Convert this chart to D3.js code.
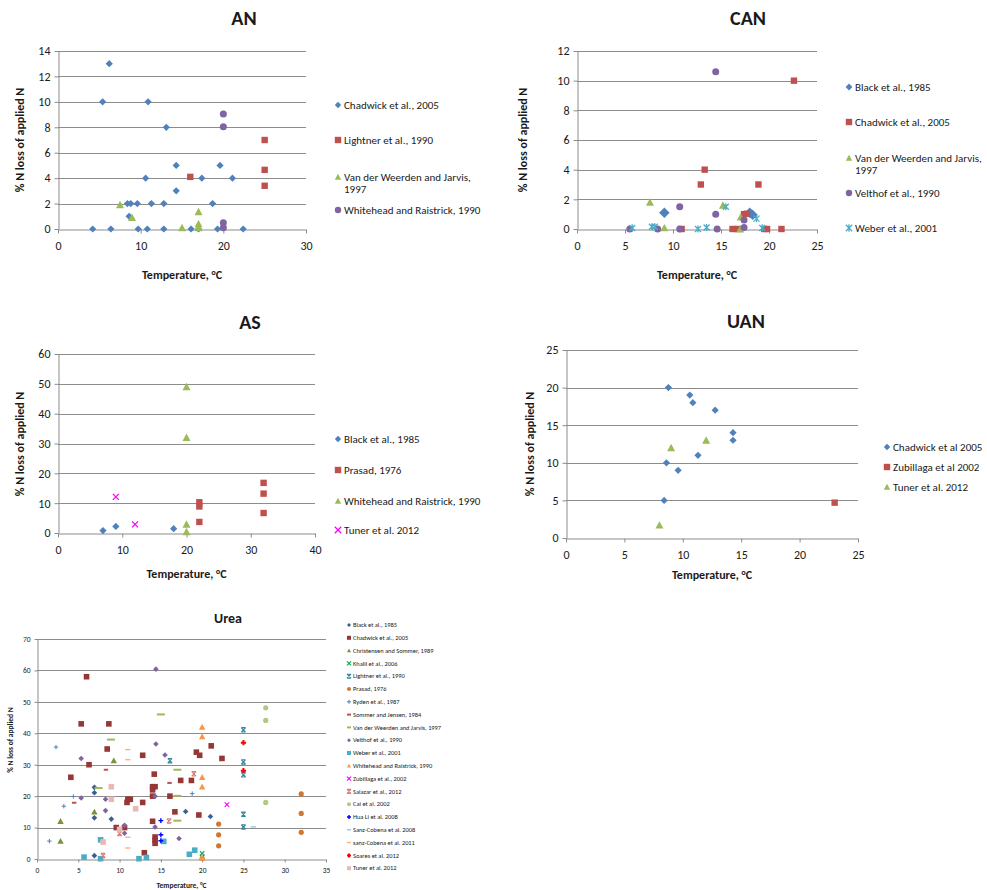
<!DOCTYPE html>
<html>
<head>
<meta charset="utf-8">
<script src="https://cdn.jsdelivr.net/npm/d3@7"></script>
<style>
  body { margin: 0; background: #fff; }
  text { font-family: Carlito, Calibri, Lato, "Liberation Sans", sans-serif; fill: #1a1a1a; }
</style>
</head>
<body>
<div id="chart"></div>
<script>
// ---------- AN ----------
var anNames = ["Chadwick et al., 2005", "Lightner et al., 1990", "Van der Weerden and Jarvis,\n1997", "Whitehead and Raistrick, 1990"];
var anChadwick = [[6.2,13],[5.4,10],[10.9,10],[13.1,8],[14.3,5],[19.6,5],[10.6,4],[17.4,4],[21.1,4],[14.3,3],
  [8.4,2],[8.8,2],[9.6,2],[11.3,2],[12.8,2],[18.7,2],[8.6,1],[4.2,0],[6.4,0],[9.7,0],[10.8,0],[12.8,0],
  [16.1,0],[17.0,0],[19.3,0],[22.4,0]];
var anLightner = [[16.0,4.1],[25,7.0],[25,4.65],[25,3.4]];
var anWeerden = [[7.5,1.9],[8.95,0.9],[15.0,0.1],[17.0,1.35],[17.0,0.4],[17.0,0.1]];
var anWhitehead = [[20,9.05],[20,8.05],[20,0.5],[20,0.1]];

// ---------- CAN ----------
var canNames = ["Black et al., 1985", "Chadwick et al., 2005", "Van der Weerden and Jarvis,\n1997", "Velthof et al., 1990", "Weber et al., 2001"];
var canBlack = [[9.1,1.1],[18.0,1.1],[18.3,0.95]];
var canChadwick = [[22.6,10],[13.3,4],[12.9,3],[18.9,3],[17.4,1.0],[17.7,1.03],[10.9,0],[16.2,0],[16.7,0],[19.5,0],[19.8,0],[21.3,0]];
var canWeerden = [[7.6,1.8],[9.1,0.07],[15.2,1.6],[17.05,0.8],[17.0,0.0]];
var canVelthof = [[14.45,10.6],[10.7,1.5],[14.45,1.0],[17.4,0.6],[17.4,0.1],[5.5,0],[8.4,0],[10.7,0],[14.6,0]];
var canWeber = [[5.75,0.07],[7.8,0.15],[8.1,0.15],[12.6,0],[13.5,0.1],[15.5,1.5],[18.7,0.7],[19.3,0.07]];

// ---------- AS ----------
var asNames = ["Black et al., 1985", "Prasad, 1976", "Whitehead and Raistrick, 1990", "Tuner et al. 2012"];
var asBlack = [[7,0.8],[9,2.2],[18,1.45]];
var asPrasad = [[22,10.3],[22,8.9],[22,3.7],[32,16.8],[32,13.2],[32,6.7]];
var asWhitehead = [[20,49],[20,32],[20,2.9],[20,0.4]];
var asTuner = [[9,12.1],[12,2.9]];

// ---------- UAN ----------
var uanNames = ["Chadwick et al 2005", "Zubillaga et al 2002", "Tuner et al. 2012"];
var uanChadwick = [[8.77,20],[10.6,19],[10.86,18],[12.77,17],[14.3,14],[14.3,13],[11.3,11],[8.6,10],[9.6,9],[8.4,5]];
var uanZubillaga = [[23,4.7]];
var uanTuner = [[8.0,1.7],[9.0,12],[12.0,13]];

// ---------- Urea ----------
var ureaNames = ["Black et al., 1985", "Chadwick et al., 2005", "Christensen and Sommer, 1989", "Khalil et al., 2006",
  "Lightner et al., 1990", "Prasad, 1976", "Ryden et al., 1987", "Sommer and Jensen, 1984",
  "Van der Weerden and Jarvis, 1997", "Velthof et al., 1990", "Weber et al., 2001", "Whitehead and Raistrick, 1990",
  "Zubillaga et al., 2002", "Salazar et al., 2012", "Cai et al. 2002", "Hua Li et al. 2008",
  "Sanz-Cobena et al. 2008", "sanz-Cobena et al. 2011", "Soares et al. 2012", "Tuner et al. 2012"];
var ureaBlack = [[6.95,22.8],[6.95,21.1],[6.95,13.1],[9.0,12.7],[6.95,1.06],[18.0,15.1],[21.0,13.5]];
var ureaChadwick = [[6.0,58],[5.35,43],[8.7,43],[8.5,35],[6.3,30],[4.1,26],[12.8,33],[14.2,27],[14.0,23],[14.0,22],
  [14.3,23],[14.0,20],[11.0,19],[10.9,18],[11.3,19],[12.8,18],[16.1,20],[16.7,15],[9.6,10],[10.6,10],[14.0,12],
  [14.3,7],[14.3,6],[14.3,5],[13.0,2],[17.4,25],[18.7,25],[19.3,34],[19.7,33],[21.1,36],[22.4,32],[19.6,14]];
var ureaChristensen = [[2.85,12],[2.85,5.7],[6.95,15],[9.3,31.3]];
var ureaKhalil = [[20,1.8],[20,0.6]];
var ureaLightner = [[25,41.1],[25,30.9],[25,26.8],[25,14.2],[25,10.2],[16.1,31.3]];
var ureaPrasad = [[32,20.7],[32,14.5],[32,8.5],[22,11.1],[22,7.7],[22,4.2],[20,0.2]];
var ureaRyden = [[2.3,35.6],[4.4,19.9],[3.25,16.8],[1.5,5.7],[18.8,20.8]];
var ureaSommer = [[4.5,17.9],[8.35,28.4],[16.05,24.2]];
var ureaWeerden = [[8.95,38],[7.45,22.6],[15.0,46],[17.0,28.4],[17.0,20.1],[17.0,12.2]];
var ureaVelthof = [[14.4,60.4],[5.35,32],[5.35,19.4],[14.4,36.6],[15.5,33.1],[8.3,19.0],[8.3,15.4],[10.6,10.7],
  [10.6,8.2],[14.3,20],[14.3,10.2],[17.2,6.5]];
var ureaWeber = [[5.7,0.6],[7.7,6.1],[7.7,0.1],[12.35,0.1],[13.25,0.5],[15.35,5.6],[18.45,1.5],[19.1,2.8]];
var ureaWhitehead = [[20,42],[20,39],[20,26],[20,23],[20,0.4]];
var ureaZubillaga = [[23,17.3]];
var ureaSalazar = [[10.0,8.1],[8.0,1.1],[16.0,12.1],[19.0,27.1]];
var ureaCai = [[27.7,48.1],[27.7,44.1],[27.7,18]];
var ureaHuaLi = [[15,12.2],[15,7.7],[15,5.8]];
var ureaSanz2008 = [[26.2,10.2]];
var ureaSanz2011 = [[11,34.8],[11,31.6],[11,6.9],[11,3.5]];
var ureaSoares = [[25,37],[25,28.1]];
var ureaTuner = [[9.0,23.0],[9.0,19.0],[11.95,16.0],[10.0,9.4],[8.0,5.4]];

var svg = d3.select("#chart").append("svg")
    .attr("width", 987)
    .attr("height", 890);

var gridColor = "#8c8c8c";

// marker outline for a given shape, centred on 0,0
function markerPath(shape, r) {
  var cross = "M" + (-r) + "," + (-r) + "L" + r + "," + r + "M" + r + "," + (-r) + "L" + (-r) + "," + r;
  switch (shape) {
    case "diamond": return "M0," + (-r) + "L" + r + ",0L0," + r + "L" + (-r) + ",0Z";
    case "square": return "M" + (-r) + "," + (-r) + "H" + r + "V" + r + "H" + (-r) + "Z";
    case "triangle": return "M0," + (-r) + "L" + r + "," + (r * 0.85) + "L" + (-r) + "," + (r * 0.85) + "Z";
    case "circle": return "M" + r + ",0A" + r + "," + r + " 0 1,1 " + (-r) + ",0A" + r + "," + r + " 0 1,1 " + r + ",0Z";
    case "x": return cross;
    case "asterisk": return cross + "M0," + (-r * 1.2) + "V" + (r * 1.2);
    case "star": return cross + "M" + (-r) + "," + (-r) + "H" + r + "M" + (-r) + "," + r + "H" + r;
    case "plus": return "M" + (-r) + ",0H" + r + "M0," + (-r) + "V" + r;
    case "dash": return "M" + (-r) + ",0H" + r;
  }
}
var lineShapes = ["x", "asterisk", "star", "plus", "dash"];

function styleMarker(sel, st) {
  var isLine = lineShapes.indexOf(st.shape) >= 0;
  sel.attr("fill", isLine ? "none" : st.color)
     .attr("stroke", isLine ? st.color : "none")
     .attr("stroke-width", isLine ? st.sw : 0);
}

function drawPanel(p) {
  var x = d3.scaleLinear().domain(p.xDomain).range([p.left, p.right]);
  var y = d3.scaleLinear().domain(p.yDomain).range([p.bottom, p.top]);
  var g = svg.append("g");

  // horizontal gridlines
  g.selectAll("line.grid")
    .data(p.yTicks.filter(function(d) { return d > p.yDomain[0]; }))
    .join("line")
    .attr("class", "grid")
    .attr("x1", p.left).attr("x2", p.right)
    .attr("y1", function(d) { return Math.round(y(d)) + 0.5; })
    .attr("y2", function(d) { return Math.round(y(d)) + 0.5; })
    .attr("stroke", gridColor);

  // axes
  var xa = g.append("g")
    .attr("transform", "translate(0," + (Math.round(p.bottom) + 0.5) + ")")
    .call(d3.axisBottom(x).tickValues(p.xTicks).tickSize(p.tick).tickSizeOuter(0).tickPadding(p.xPad));
  var ya = g.append("g")
    .attr("transform", "translate(" + (Math.round(p.left) + 0.5) + ",0)")
    .call(d3.axisLeft(y).tickValues(p.yTicks).tickSize(p.tick).tickSizeOuter(0).tickPadding(p.yPad));
  [xa, ya].forEach(function(a) {
    a.select(".domain").attr("stroke", gridColor);
    a.selectAll(".tick line").attr("stroke", gridColor);
    a.selectAll(".tick text").attr("font-size", p.tickFont).attr("fill", "#1a1a1a");
    a.attr("font-family", null);
  });

  // titles
  g.append("text")
    .attr("x", p.titleX).attr("y", p.titleY)
    .attr("text-anchor", "middle")
    .attr("font-weight", "bold")
    .attr("font-size", p.titleFont)
    .text(p.title);

  g.append("text")
    .attr("x", (p.left + p.right) / 2).attr("y", p.xLabelY)
    .attr("text-anchor", "middle")
    .attr("font-weight", "bold")
    .attr("font-size", p.labelFont)
    .text("Temperature, °C");

  g.append("text")
    .attr("transform", "translate(" + p.yLabelX + "," + p.yLabelY + ") rotate(-90)")
    .attr("text-anchor", "middle")
    .attr("dy", "0.35em")
    .attr("font-weight", "bold")
    .attr("font-size", p.labelFont)
    .text("% N loss of applied N");

  // points
  p.series.forEach(function(s) {
    var pts = g.append("g").selectAll("path")
      .data(s.data)
      .join("path")
      .attr("transform", function(d) { return "translate(" + x(d[0]) + "," + y(d[1]) + ")"; })
      .attr("d", markerPath(s.style.shape, s.style.r));
    styleMarker(pts, s.style);
  });

  // legend
  var lg = g.append("g");
  p.series.forEach(function(s, i) {
    var ly = p.legendRows[i];
    var m = lg.append("path")
      .attr("transform", "translate(" + p.legendX + "," + ly + ")")
      .attr("d", markerPath(s.style.shape, s.style.lr || p.legendR));
    styleMarker(m, s.style);
    var t = lg.append("text")
      .attr("x", p.legendX + p.legendGap).attr("y", ly)
      .attr("font-size", p.legendFont);
    s.name.split("\n").forEach(function(line, j) {
      t.append("tspan").attr("x", p.legendX + p.legendGap).attr("dy", j === 0 ? "0.35em" : p.legendLine).text(line);
    });
  });
}

var blue = "#4F81BD", red = "#C0504D", green = "#9BBB59", purple = "#8064A2", aqua = "#4BACC6";
var big = {
  tick: 4, xPad: 8, yPad: 4, tickFont: 12, titleFont: 20, labelFont: 12,
  legendR: 3.2, legendGap: 6, legendFont: 11, legendLine: 12
};

drawPanel(Object.assign({}, big, {
  title: "AN", titleX: 244, titleY: 25,
  left: 58, right: 306, top: 51, bottom: 229,
  xDomain: [0, 30], yDomain: [0, 14],
  xTicks: [0, 10, 20, 30], yTicks: [0, 2, 4, 6, 8, 10, 12, 14],
  xLabelY: 279, yLabelX: 20, yLabelY: 140,
  legendX: 338, legendRows: [105, 140, 177, 210],
  series: [
    { name: anNames[0], data: anChadwick, style: { shape: "diamond", color: blue, r: 3.6 } },
    { name: anNames[1], data: anLightner, style: { shape: "square", color: red, r: 3.2 } },
    { name: anNames[2], data: anWeerden, style: { shape: "triangle", color: green, r: 4 } },
    { name: anNames[3], data: anWhitehead, style: { shape: "circle", color: purple, r: 3.5 } }
  ]
}));

drawPanel(Object.assign({}, big, {
  title: "CAN", titleX: 748, titleY: 25,
  left: 577, right: 817, top: 51, bottom: 229,
  xDomain: [0, 25], yDomain: [0, 12],
  xTicks: [0, 5, 10, 15, 20, 25], yTicks: [0, 2, 4, 6, 8, 10, 12],
  xLabelY: 279, yLabelX: 523, yLabelY: 140,
  legendX: 849, legendRows: [87, 122, 158, 193, 228],
  series: [
    { name: canNames[0], data: canBlack, style: { shape: "diamond", color: blue, r: 5.2, lr: 3.4 } },
    { name: canNames[1], data: canChadwick, style: { shape: "square", color: red, r: 3.2 } },
    { name: canNames[2], data: canWeerden, style: { shape: "triangle", color: green, r: 4 } },
    { name: canNames[3], data: canVelthof, style: { shape: "circle", color: purple, r: 3.5 } },
    { name: canNames[4], data: canWeber, style: { shape: "asterisk", color: aqua, r: 3, sw: 1.3 } }
  ]
}));

drawPanel(Object.assign({}, big, {
  title: "AS", titleX: 250, titleY: 329,
  left: 58, right: 315, top: 354, bottom: 533,
  xDomain: [0, 40], yDomain: [0, 60],
  xTicks: [0, 10, 20, 30, 40], yTicks: [0, 10, 20, 30, 40, 50, 60],
  xLabelY: 578, yLabelX: 20, yLabelY: 444,
  legendX: 338, legendRows: [439, 470, 501, 530],
  series: [
    { name: asNames[0], data: asBlack, style: { shape: "diamond", color: blue, r: 3.6 } },
    { name: asNames[1], data: asPrasad, style: { shape: "square", color: red, r: 3.2 } },
    { name: asNames[2], data: asWhitehead, style: { shape: "triangle", color: green, r: 4 } },
    { name: asNames[3], data: asTuner, style: { shape: "x", color: "#FF00FF", r: 3, sw: 1.3 } }
  ]
}));

drawPanel(Object.assign({}, big, {
  title: "UAN", titleX: 746, titleY: 328,
  left: 566, right: 858, top: 350, bottom: 538,
  xDomain: [0, 25], yDomain: [0, 25],
  xTicks: [0, 5, 10, 15, 20, 25], yTicks: [0, 5, 10, 15, 20, 25],
  xLabelY: 579, yLabelX: 530, yLabelY: 444,
  legendX: 887, legendRows: [447, 467, 487],
  series: [
    { name: uanNames[0], data: uanChadwick, style: { shape: "diamond", color: blue, r: 3.6 } },
    { name: uanNames[1], data: uanZubillaga, style: { shape: "square", color: red, r: 3.2 } },
    { name: uanNames[2], data: uanTuner, style: { shape: "triangle", color: green, r: 4 } }
  ]
}));

var ureaStyles = [
  { shape: "diamond", color: "#3B5F8E", r: 2.8 },
  { shape: "square", color: "#953735", r: 2.8 },
  { shape: "triangle", color: "#77933C", r: 3.2 },
  { shape: "x", color: "#00B050", r: 2.2, sw: 1.2 },
  { shape: "star", color: "#31859C", r: 2.2, sw: 1.1 },
  { shape: "circle", color: "#D07832", r: 2.6 },
  { shape: "plus", color: "#4F81BD", r: 2.2, sw: 1 },
  { shape: "dash", color: "#C0504D", r: 2.2, sw: 2 },
  { shape: "dash", color: "#9BBB59", r: 4, sw: 2 },
  { shape: "diamond", color: "#8064A2", r: 2.8 },
  { shape: "square", color: "#4BACC6", r: 2.8 },
  { shape: "triangle", color: "#F79646", r: 3.2 },
  { shape: "x", color: "#FF00FF", r: 2.2, sw: 1.2 },
  { shape: "star", color: "#D47C7A", r: 2.2, sw: 1.1 },
  { shape: "circle", color: "#AFC97E", r: 2.6 },
  { shape: "plus", color: "#0000FF", r: 2.4, sw: 1.4 },
  { shape: "dash", color: "#7CC3DB", r: 2.6, sw: 1.2 },
  { shape: "dash", color: "#F9B27A", r: 2.6, sw: 1.4 },
  { shape: "plus", color: "#FF0000", r: 2.6, sw: 2 },
  { shape: "square", color: "#E6B9B8", r: 2.8 }
];
var ureaData = [ureaBlack, ureaChadwick, ureaChristensen, ureaKhalil, ureaLightner, ureaPrasad, ureaRyden,
  ureaSommer, ureaWeerden, ureaVelthof, ureaWeber, ureaWhitehead, ureaZubillaga, ureaSalazar, ureaCai,
  ureaHuaLi, ureaSanz2008, ureaSanz2011, ureaSoares, ureaTuner];

drawPanel({
  tick: 3, xPad: 5, yPad: 4, tickFont: 7.5, titleFont: 14, labelFont: 7.5,
  legendR: 2, legendGap: 4, legendFont: 6.4, legendLine: 8,
  title: "Urea", titleX: 228, titleY: 623,
  left: 37, right: 326, top: 639, bottom: 859,
  xDomain: [0, 35], yDomain: [0, 70],
  xTicks: [0, 5, 10, 15, 20, 25, 30, 35], yTicks: [0, 10, 20, 30, 40, 50, 60, 70],
  xLabelY: 888, yLabelX: 10, yLabelY: 740,
  legendX: 349, legendRows: ureaNames.map(function(d, i) { return 625 + i * 12.8; }),
  series: ureaNames.map(function(n, i) {
    return { name: n, data: ureaData[i], style: ureaStyles[i] };
  })
});
</script>
</body>
</html>
